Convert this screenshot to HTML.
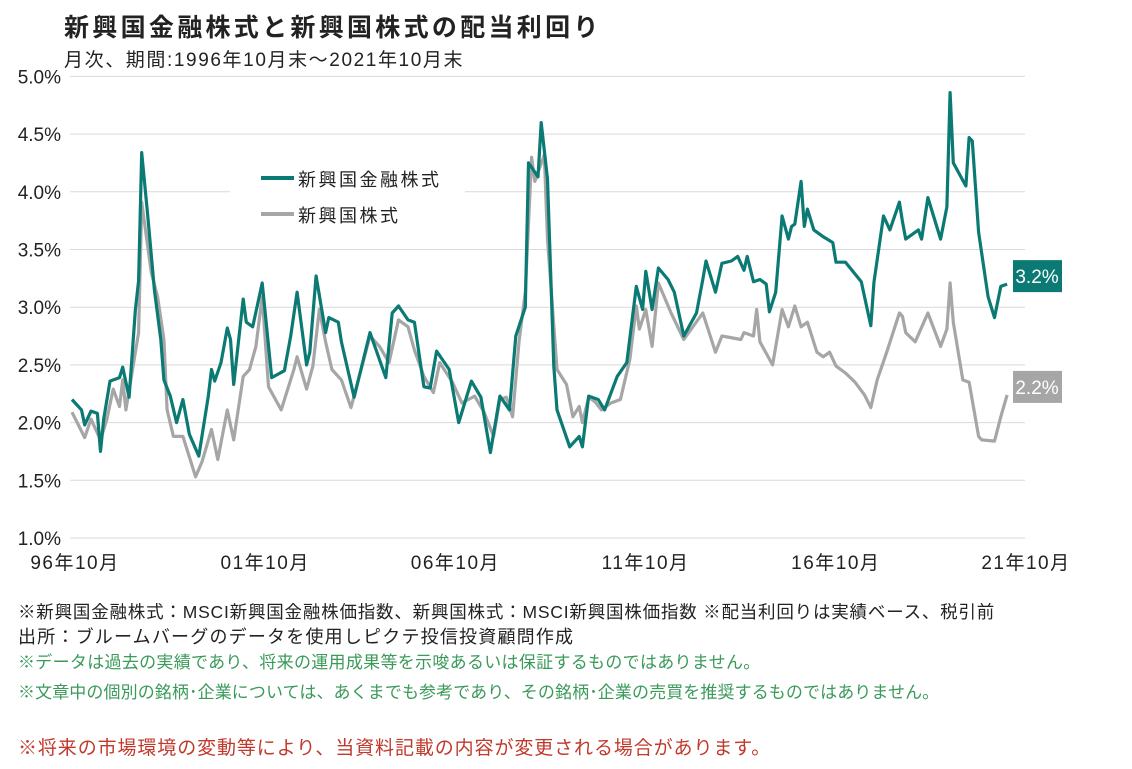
<!DOCTYPE html>
<html><head><meta charset="utf-8">
<style>
body{margin:0;background:#fff;width:1132px;height:769px;overflow:hidden;font-family:"Liberation Sans","Noto Sans CJK JP",sans-serif;}
.t{position:absolute;white-space:nowrap;color:#222;}
</style></head>
<body>
<div class="t" style="left:64px;top:8px;font-size:25px;letter-spacing:3.3px;font-weight:bold;">新興国金融株式と新興国株式の配当利回り</div>
<div class="t" style="left:64px;top:45px;font-size:19px;letter-spacing:1.6px;">月次、期間:1996年10月末～2021年10月末</div>
<svg id="chart" width="1132" height="600" style="position:absolute;left:0;top:0;font-family:'Liberation Sans','Noto Sans CJK JP',sans-serif;"></svg>
<div class="t" style="left:18px;top:599px;font-size:17.5px;letter-spacing:0.8px;">※新興国金融株式：MSCI新興国金融株価指数、新興国株式：MSCI新興国株価指数 ※配当利回りは実績ベース、税引前</div>
<div class="t" style="left:18px;top:623px;font-size:18px;letter-spacing:1.2px;">出所：ブルームバーグのデータを使用しピクテ投信投資顧問作成</div>
<div class="t" style="left:18px;top:648px;font-size:17px;letter-spacing:0.3px;color:#3a9a5a;">※データは過去の実績であり、将来の運用成果等を示唆あるいは保証するものではありません。</div>
<div class="t" style="left:18px;top:678px;font-size:17px;letter-spacing:0.1px;color:#3a9a5a;">※文章中の個別の銘柄･企業については、あくまでも参考であり、その銘柄･企業の売買を推奨するものではありません。</div>
<div class="t" style="left:18px;top:733px;font-size:19px;letter-spacing:0.9px;color:#c0392b;">※将来の市場環境の変動等により、当資料記載の内容が変更される場合があります。</div>
<script>
const yTicks=[1.0,1.5,2.0,2.5,3.0,3.5,4.0,4.5,5.0];
const xTickMonths=[0,60,120,180,240,300];
const xTickLabels=["96年10月","01年10月","06年10月","11年10月","16年10月","21年10月"];
const finMonths=[0,3,4,6,8,9,10,12,15,16,18,20,21,22,24,26,28,29,31,33,35,37,40,43,44,45,47,49,50,51,54,55,57,60,63,67,69,71,74,75,77,80,81,84,85,89,94,99,101,103,106,108,111,113,115,119,122,126,129,132,135,138,140,143,144,147,148,150,152,153,157,160,161,163,166,168,172,175,178,180,181,183,185,188,190,193,197,199,200,203,205,208,210,212,213,215,217,219,220,222,224,226,227,228,230,231,232,234,237,240,241,244,249,252,253,256,258,261,262,263,267,268,270,274,276,277,278,282,283,284,286,289,291,293,295];
const finValues=[2.20,2.11,1.98,2.10,2.08,1.75,2.03,2.36,2.39,2.48,2.22,2.98,3.23,4.34,3.76,3.15,2.72,2.37,2.23,2.0,2.2,1.9,1.71,2.23,2.46,2.36,2.52,2.82,2.72,2.33,3.07,2.87,2.83,3.21,2.39,2.45,2.75,3.13,2.50,2.61,3.27,2.78,2.91,2.87,2.70,2.22,2.78,2.39,2.95,3.01,2.89,2.87,2.31,2.30,2.62,2.46,2.0,2.36,2.22,1.74,2.23,2.11,2.75,3.0,4.25,4.13,4.60,4.11,2.49,2.11,1.79,1.88,1.79,2.23,2.20,2.11,2.40,2.52,3.18,2.98,3.31,2.98,3.34,3.24,3.13,2.75,2.95,3.24,3.40,3.13,3.38,3.40,3.44,3.32,3.44,3.22,3.24,3.20,2.96,3.13,3.79,3.59,3.70,3.72,4.09,3.70,3.85,3.67,3.61,3.56,3.39,3.39,3.22,2.84,3.22,3.79,3.67,3.91,3.74,3.59,3.67,3.59,3.95,3.59,3.87,4.86,4.25,4.05,4.47,4.44,3.65,3.09,2.91,3.18,3.20];
const emMonths=[0,4,6,9,11,13,15,16,17,21,22,25,27,29,30,32,35,39,41,44,46,49,51,54,56,58,60,62,66,70,71,74,76,78,80,82,85,88,94,97,100,103,106,108,111,114,116,120,123,127,130,133,135,137,139,141,143,145,146,149,150,153,156,158,160,161,163,165,167,170,173,176,178,179,181,183,185,189,193,199,203,205,211,212,215,216,217,221,224,226,228,230,232,235,237,239,241,244,247,250,252,254,257,261,262,263,266,270,274,276,277,278,281,283,286,287,291,293,295];
const emValues=[2.09,1.87,2.03,1.85,2.03,2.29,2.14,2.37,2.11,2.78,3.91,3.30,3.09,2.72,2.11,1.88,1.88,1.53,1.66,1.94,1.68,2.11,1.85,2.40,2.46,2.66,3.09,2.31,2.11,2.46,2.57,2.29,2.49,2.98,2.70,2.46,2.37,2.13,2.75,2.66,2.52,2.89,2.83,2.63,2.40,2.26,2.52,2.35,2.17,2.23,2.09,1.88,2.20,2.22,2.05,2.70,3.13,4.30,4.09,4.32,3.59,2.46,2.33,2.05,2.14,2.0,2.22,2.18,2.11,2.17,2.20,2.55,3.01,2.81,2.98,2.66,3.21,2.95,2.72,2.95,2.61,2.75,2.72,2.78,2.75,2.98,2.70,2.50,2.98,2.83,3.01,2.83,2.87,2.61,2.57,2.61,2.49,2.43,2.35,2.24,2.13,2.37,2.61,2.95,2.92,2.78,2.70,2.95,2.66,2.81,3.21,2.87,2.37,2.35,1.88,1.85,1.84,2.05,2.24];
const NS="http://www.w3.org/2000/svg";
const svg=document.getElementById('chart');
const X=m=>72+m*3.17;
const Y=v=>538-(v-1)*115.4;
function mk(tag,attrs,parent){const e=document.createElementNS(NS,tag);for(const k in attrs)e.setAttribute(k,attrs[k]);(parent||svg).appendChild(e);return e;}
yTicks.forEach(v=>{
  const g=mk('line',{x1:70,x2:1025,y1:Y(v),y2:Y(v),stroke:'#d9d9d9','stroke-width':1});
  
  
  const t=mk('text',{x:61,y:Y(v)+7,'text-anchor':'end','font-size':19,fill:'#222'});
  t.textContent=v.toFixed(1)+'%';
  
  
});
xTickMonths.forEach((m,i)=>{
  const t=mk('text',{x:X(m)+3,y:569,'text-anchor':'middle','font-size':19,'letter-spacing':1.5,fill:'#222'});
  t.textContent=xTickLabels[i];
  
  
});
const lb=mk('rect',{x:230,y:160,width:235,height:70,fill:'#fff'});


function path(ms,vs){return ms.map((m,i)=>(i?'L':'M')+X(m).toFixed(1)+','+Y(vs[i]).toFixed(1)).join(' ');}
const pe=mk('path',{d:path(emMonths,emValues),fill:'none',stroke:'#a6a6a6','stroke-width':3.2,'stroke-linejoin':'round'});


const pf=mk('path',{d:path(finMonths,finValues),fill:'none',stroke:'#0b7a74','stroke-width':3.2,'stroke-linejoin':'round'});


const l1=mk('line',{x1:261,x2:294,y1:178,y2:178,stroke:'#0b7a74','stroke-width':4});


const t1=mk('text',{x:298,y:186,'font-size':18,fill:'#222','letter-spacing':'2.5'});t1.textContent='新興国金融株式';


const l2=mk('line',{x1:261,x2:294,y1:214,y2:214,stroke:'#a6a6a6','stroke-width':4});


const t2=mk('text',{x:298,y:222,'font-size':18,fill:'#222','letter-spacing':'2.5'});t2.textContent='新興国株式';


function endLabel(v,col,name){
  const y=Y(v)-8;
  const r=mk('rect',{x:1013,y:y-16,width:49,height:32,fill:col});
  
  
  const t=mk('text',{x:1037,y:y+7,'text-anchor':'middle','font-size':19,fill:'#fff'});
  t.textContent=v.toFixed(1)+'%';
  
  
}
endLabel(finValues[finValues.length-1],'#0b7a74','financials-end-label');
endLabel(emValues[emValues.length-1],'#a6a6a6','equity-end-label');
</script>
</body></html>
